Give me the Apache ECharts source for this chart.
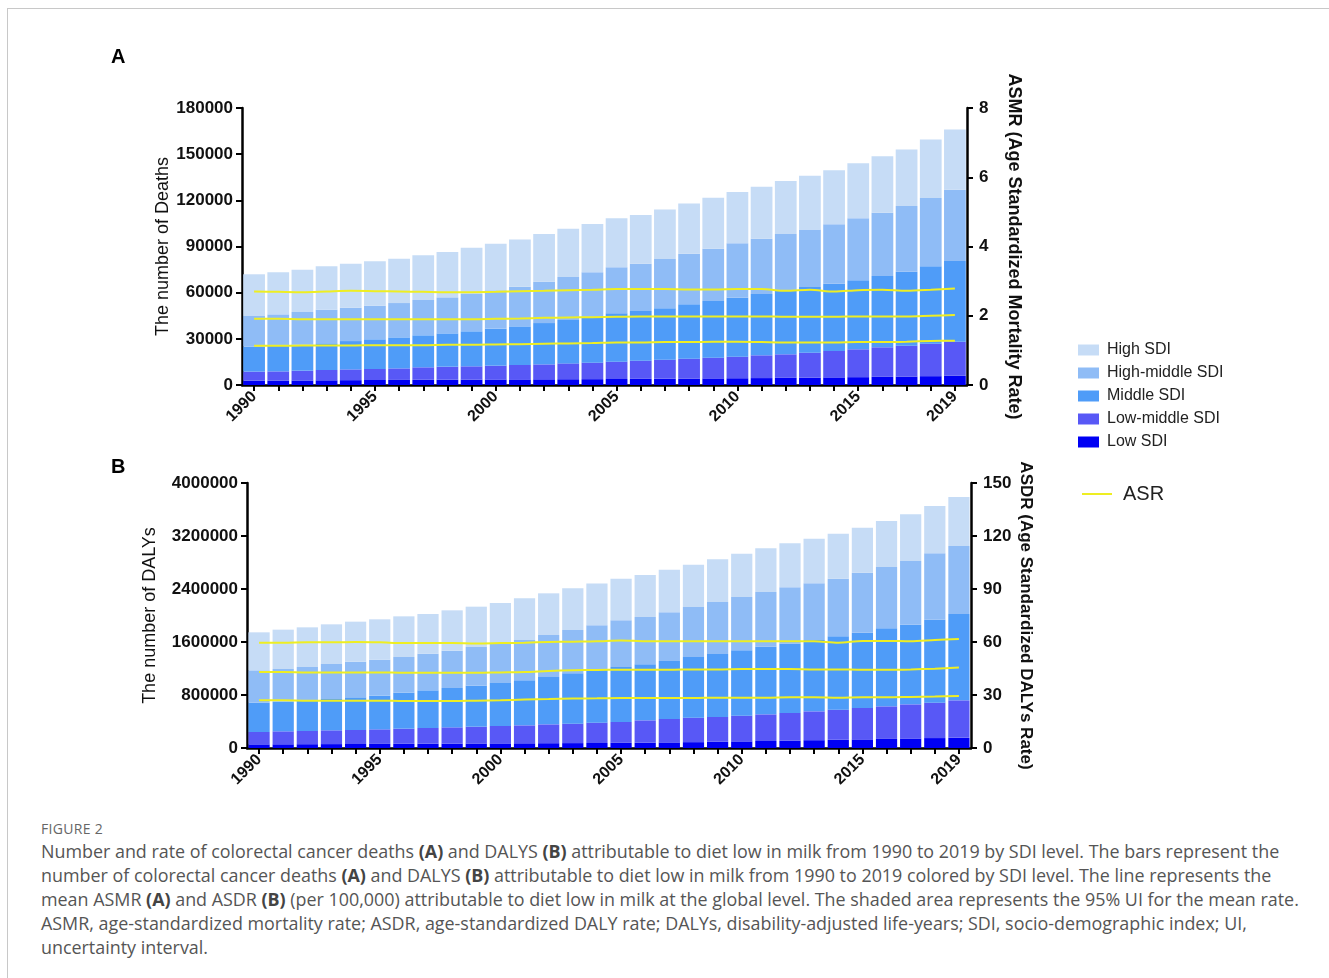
<!DOCTYPE html>
<html>
<head>
<meta charset="utf-8">
<script src="https://cdn.jsdelivr.net/npm/echarts@6/dist/echarts.min.js"></script>
<style>
  html, body { margin: 0; padding: 0; background: #fff; }
  #frame { position: absolute; left: 7px; top: 8px; width: 1330px; height: 980px; border-top: 1px solid #c8c8c8; border-left: 1px solid #c8c8c8; }
  #chart { position: absolute; left: 0; top: 0; width: 1329px; height: 810px; }
  .fig { position: absolute; left: 41px; top: 819px; font-family: 'Open Sans', sans-serif; font-size: 14px; color: #666; letter-spacing: 0.3px; }
  .cap { position: absolute; left: 41px; top: 839px; font-family: 'Open Sans', sans-serif; font-size: 17.9px; line-height: 24px; color: #555; white-space: nowrap; }
  .cap b { color: #444; }
</style>
</head>
<body>
<div id="frame"></div>
<div id="chart"></div>
<div class="fig">FIGURE 2</div>
<div class="cap">Number and rate of colorectal cancer deaths <b>(A)</b> and DALYS <b>(B)</b> attributable to diet low in milk from 1990 to 2019 by SDI level. The bars represent the<br>number of colorectal cancer deaths <b>(A)</b> and DALYS <b>(B)</b> attributable to diet low in milk from 1990 to 2019 colored by SDI level. The line represents the<br>mean ASMR <b>(A)</b> and ASDR <b>(B)</b> (per 100,000) attributable to diet low in milk at the global level. The shaded area represents the 95% UI for the mean rate.<br>ASMR, age-standardized mortality rate; ASDR, age-standardized DALY rate; DALYs, disability-adjusted life-years; SDI, socio-demographic index; UI,<br>uncertainty interval.</div>
<script>
// ---------- data ----------
const years = ['1990','1991','1992','1993','1994','1995','1996','1997','1998','1999',
  '2000','2001','2002','2003','2004','2005','2006','2007','2008','2009',
  '2010','2011','2012','2013','2014','2015','2016','2017','2018','2019'];

const sdiNames = ['High SDI', 'High-middle SDI', 'Middle SDI', 'Low-middle SDI', 'Low SDI'];

// Panel A: number of deaths
const deathsLow = [2800, 2850, 2950, 3050, 3150, 3250, 3300, 3400, 3450, 3500, 3600, 3650, 3700, 3750, 3800, 3900, 4000, 4100, 4200, 4300, 4400, 4500, 4650, 4800, 4950, 5100, 5300, 5500, 5750, 6000];
const deathsLowMiddle = [5900, 6000, 6350, 6700, 7000, 7150, 7500, 8100, 8450, 8650, 8950, 9350, 9700, 10300, 10700, 11250, 11800, 12350, 12900, 13450, 14000, 14800, 15300, 16200, 17150, 18100, 19200, 20050, 21100, 22150];
const deathsMiddle = [16250, 16700, 16900, 17350, 18400, 19300, 20150, 20800, 21650, 22750, 24050, 25100, 26850, 28150, 29900, 31400, 32250, 33350, 35300, 36800, 38350, 39850, 41800, 42650, 43750, 44850, 46350, 48100, 50250, 52400];
const deathsHighMiddle = [19900, 20350, 21250, 21900, 21650, 21900, 22300, 22950, 23400, 24250, 24900, 25750, 26850, 27950, 28800, 29900, 30750, 32050, 32900, 34000, 35300, 35950, 36400, 37450, 38550, 40300, 41150, 42650, 44400, 46350];
const deathsHigh = [27100, 27300, 27500, 28150, 28600, 28800, 28800, 29000, 29450, 30100, 30300, 30750, 30950, 31400, 31400, 31850, 31600, 32250, 32700, 33150, 33350, 33800, 34450, 34850, 35100, 35750, 36600, 36800, 38100, 39200];

// Panel A: ASMR (upper, mean, lower)
const asmrUpper = [2.70, 2.69, 2.68, 2.70, 2.72, 2.71, 2.70, 2.69, 2.68, 2.68, 2.69, 2.71, 2.72, 2.74, 2.75, 2.77, 2.77, 2.77, 2.76, 2.76, 2.77, 2.77, 2.72, 2.75, 2.70, 2.74, 2.75, 2.72, 2.75, 2.79];
const asmrMean = [1.91, 1.91, 1.90, 1.90, 1.90, 1.90, 1.90, 1.90, 1.90, 1.90, 1.91, 1.92, 1.94, 1.95, 1.96, 1.97, 1.98, 1.98, 1.98, 1.98, 1.98, 1.98, 1.97, 1.97, 1.97, 1.98, 1.98, 1.98, 2.00, 2.02];
const asmrLower = [1.13, 1.13, 1.14, 1.14, 1.14, 1.15, 1.15, 1.15, 1.16, 1.16, 1.17, 1.18, 1.19, 1.20, 1.21, 1.23, 1.23, 1.24, 1.24, 1.25, 1.25, 1.24, 1.23, 1.23, 1.23, 1.24, 1.24, 1.25, 1.27, 1.28];

// Panel B: number of DALYs
const dalysLow = [55000, 56000, 57500, 59000, 60500, 62000, 63500, 65000, 66500, 68000, 69500, 71000, 72500, 74000, 75500, 78000, 81000, 84500, 88500, 94000, 100000, 106000, 112000, 118000, 124000, 130000, 137000, 144000, 150000, 156000];
const dalysLowMiddle = [186500, 195600, 199100, 207700, 211200, 219800, 228300, 236900, 245500, 254000, 262600, 271100, 284700, 293300, 306900, 314400, 336600, 353200, 369300, 373900, 388000, 402100, 416300, 435400, 454600, 473800, 491900, 515100, 534300, 563500];
const dalysMiddle = [442800, 447800, 452800, 473000, 493100, 508200, 543400, 568600, 593700, 618900, 649100, 679200, 714500, 759700, 800000, 830200, 845200, 875400, 915700, 950900, 986100, 1021300, 1046500, 1076700, 1106900, 1137000, 1177300, 1202500, 1252700, 1303100];
const dalysHighMiddle = [488100, 493100, 513200, 528300, 538400, 543400, 538400, 553500, 563500, 583600, 593700, 608800, 634000, 654100, 669200, 704400, 714500, 734700, 754800, 785000, 805100, 825300, 850300, 855400, 870500, 905700, 925900, 961000, 1001300, 1026400];
const dalysHigh = [573600, 593700, 598700, 598700, 603800, 608800, 613800, 598700, 608800, 608800, 613800, 628900, 628900, 628900, 631400, 628900, 634000, 644000, 639000, 644000, 654100, 659100, 664200, 674200, 679200, 679200, 694300, 704400, 714500, 739600];

// Panel B: ASDR (upper, mean, lower)
const asdrUpper = [59.6, 59.6, 59.8, 59.8, 60.0, 59.8, 59.4, 59.4, 59.4, 59.2, 59.4, 59.6, 60.0, 60.2, 60.4, 60.9, 60.4, 60.4, 60.4, 60.4, 60.4, 60.4, 60.4, 60.4, 59.6, 60.6, 60.6, 60.4, 61.1, 61.7];
const asdrMean = [43.0, 43.0, 42.8, 42.8, 42.8, 42.8, 42.6, 42.6, 42.6, 42.6, 42.8, 43.0, 43.6, 44.0, 44.2, 44.3, 44.3, 44.3, 44.5, 44.5, 44.7, 44.7, 44.7, 44.5, 44.5, 44.3, 44.3, 44.5, 44.9, 45.5];
const asdrLower = [27.0, 27.0, 26.8, 26.8, 26.8, 26.8, 26.6, 26.6, 26.6, 26.8, 27.0, 27.4, 27.7, 28.0, 28.1, 28.3, 28.3, 28.3, 28.3, 28.5, 28.5, 28.5, 28.7, 28.7, 28.5, 28.7, 28.7, 28.9, 29.1, 29.4];

// ---------- styles ----------
const colors = {
  'High SDI': '#C6DCF6',
  'High-middle SDI': '#8FBCF6',
  'Middle SDI': '#4F9CF8',
  'Low-middle SDI': '#5858F6',
  'Low SDI': '#0000F4'
};
const lineColor = '#EEEE22';
const FONT = "'Liberation Sans', Arial, sans-serif";

const chart = echarts.init(document.getElementById('chart'), null, { renderer: 'canvas' });

function xAxisFor(gridIndex) {
  return {
    type: 'category', gridIndex, data: years, boundaryGap: true,
    axisLine: { show: true, lineStyle: { color: '#000', width: 2.5 } },
    axisTick: { show: true, alignWithLabel: true, interval: 0, length: 6, lineStyle: { color: '#000', width: 2 } },
    axisLabel: {
      interval: (i) => i % 5 === 0 || i === years.length - 1,
      rotate: 45, margin: 9, color: '#111',
      fontFamily: FONT, fontWeight: 'bold', fontSize: 16
    },
    splitLine: { show: false }
  };
}
function yAxisFor(gridIndex, pos, max, interval, name, nameGap, nameBold, nameSize) {
  return {
    type: 'value', gridIndex, position: pos, min: 0, max, interval,
    name, nameLocation: 'middle', nameGap, nameRotate: pos === 'left' ? 90 : -90,
    nameMoveOverlap: false,
    nameTextStyle: { fontFamily: FONT, fontSize: nameSize, fontWeight: nameBold ? 'bold' : 'normal', color: '#111' },
    axisLine: { show: true, lineStyle: { color: '#000', width: 2.5 } },
    axisTick: { show: true, length: 6, lineStyle: { color: '#000', width: 2 } },
    axisLabel: { margin: pos === 'left' ? 9 : 12, color: '#111', fontFamily: FONT, fontWeight: 'bold', fontSize: 17,
      formatter: (v) => String(v) },
    splitLine: { show: false }
  };
}

const stackOrder = [
  ['Low SDI', deathsLow, dalysLow],
  ['Low-middle SDI', deathsLowMiddle, dalysLowMiddle],
  ['Middle SDI', deathsMiddle, dalysMiddle],
  ['High-middle SDI', deathsHighMiddle, dalysHighMiddle],
  ['High SDI', deathsHigh, dalysHigh]
];

const series = [];
stackOrder.forEach(([name, a, b]) => {
  series.push({ name, type: 'bar', xAxisIndex: 0, yAxisIndex: 0, stack: 'A', data: a,
    barCategoryGap: '10%', itemStyle: { color: colors[name] } });
  series.push({ name, type: 'bar', xAxisIndex: 1, yAxisIndex: 2, stack: 'B', data: b,
    barCategoryGap: '12%', itemStyle: { color: colors[name] } });
});
[[asmrUpper, 0, 1], [asmrMean, 0, 1], [asmrLower, 0, 1], [asdrUpper, 1, 3], [asdrMean, 1, 3], [asdrLower, 1, 3]]
  .forEach(([d, xi, yi]) => {
    series.push({ name: 'ASR', type: 'line', xAxisIndex: xi, yAxisIndex: yi, data: d, smooth: 0.3,
      showSymbol: false, symbol: 'none', z: 5,
      lineStyle: { color: lineColor, width: 2 }, itemStyle: { color: lineColor } });
  });

chart.setOption({
  animation: false,
  textStyle: { fontFamily: FONT },
  grid: [
    { left: 242, top: 108, width: 725, height: 277 },
    { left: 247, top: 483, width: 724, height: 265 }
  ],
  xAxis: [xAxisFor(0), xAxisFor(1)],
  yAxis: [
    yAxisFor(0, 'left', 180000, 30000, 'The number of Deaths', 70, false, 18),
    yAxisFor(0, 'right', 8, 2, 'ASMR (Age Standardized Mortality Rate)', 38, true, 18),
    yAxisFor(1, 'left', 4000000, 800000, 'The number of DALYs', 88, false, 18),
    yAxisFor(1, 'right', 150, 30, 'ASDR (Age Standardized DALYs Rate)', 46, true, 17)
  ],
  legend: [
    { data: sdiNames, orient: 'vertical', left: 1073, top: 337, icon: 'rect',
      itemWidth: 21, itemHeight: 11, itemGap: 7,
      textStyle: { fontFamily: FONT, fontSize: 16, lineHeight: 16, color: '#222', padding: [0, 0, 0, 3] } },
    { data: [{ name: 'ASR', icon: 'rect' }], orient: 'vertical', left: 1077, top: 479,
      itemWidth: 30, itemHeight: 2, itemGap: 10,
      textStyle: { fontFamily: FONT, fontSize: 20, color: '#222', padding: [0, 0, 0, 6] } }
  ],
  graphic: [
    { type: 'text', left: 111, top: 47, style: { text: 'A', fontFamily: FONT, fontWeight: 'bold', fontSize: 20, fill: '#000' } },
    { type: 'text', left: 111, top: 457, style: { text: 'B', fontFamily: FONT, fontWeight: 'bold', fontSize: 20, fill: '#000' } }
  ],
  series
});
</script>
</body>
</html>
